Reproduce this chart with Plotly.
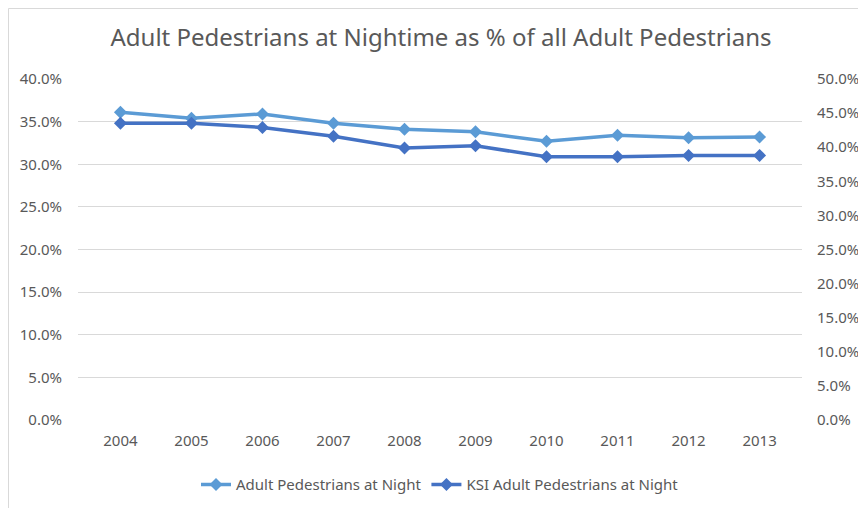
import plotly.graph_objects as go

# ---------------------------------------
# DATA
# ---------------------------------------
years = ["2004", "2005", "2006", "2007", "2008", "2009", "2010", "2011", "2012", "2013"]

# left axis
adult_night = [0.361, 0.354, 0.359, 0.348, 0.341, 0.338, 0.327, 0.334, 0.331, 0.332]

# right axis
ksi_adult_night = [0.435, 0.435, 0.429, 0.416, 0.399, 0.402, 0.386, 0.386, 0.388, 0.388]

grey = "#595959"
font_family = "Noto Sans, Liberation Sans, sans-serif"

fig = go.Figure()

fig.add_trace(go.Scatter(
    x=years,
    y=adult_night,
    name="Adult Pedestrians at Night",
    mode="lines+markers",
    line=dict(color="#5B9BD5", width=3.5),
    marker=dict(symbol="diamond", size=10, color="#5B9BD5")
))

fig.add_trace(go.Scatter(
    x=years,
    y=ksi_adult_night,
    name="KSI Adult Pedestrians at Night",
    mode="lines+markers",
    yaxis="y2",
    line=dict(color="#4472C4", width=3.5),
    marker=dict(symbol="diamond", size=10, color="#4472C4")
))

# page body adds 8px offset, so margins are shifted by that
fig.update_layout(
    width=866,
    height=508,
    paper_bgcolor="white",
    plot_bgcolor="white",
    font=dict(family=font_family, color=grey, size=15),
    title=dict(
        text="Adult Pedestrians at Nightime as % of all Adult Pedestrians",
        x=0.5, xanchor="center",
        y=0.941, yanchor="middle",
        font=dict(size=24, color=grey)
    ),
    margin=dict(l=70, r=72, t=71, b=96),
    xaxis=dict(
        showgrid=False,
        showline=False,
        ticks="outside",
        ticklen=7,
        tickcolor="rgba(0,0,0,0)",
        tickfont=dict(size=15, color=grey)
    ),
    yaxis=dict(
        range=[0, 0.4],
        dtick=0.05,
        tickformat=".1%",
        showgrid=True,
        gridcolor="#D9D9D9",
        gridwidth=1,
        zeroline=False,
        showline=False,
        ticks="outside",
        ticklen=12,
        tickcolor="rgba(0,0,0,0)",
        tickfont=dict(size=15, color=grey)
    ),
    yaxis2=dict(
        range=[0, 0.5],
        dtick=0.05,
        tickformat=".1%",
        overlaying="y",
        side="right",
        showgrid=False,
        zeroline=False,
        showline=False,
        ticks="outside",
        ticklen=11,
        tickcolor="rgba(0,0,0,0)",
        tickfont=dict(size=15, color=grey)
    ),
    legend=dict(
        orientation="h",
        x=0.5, xanchor="center",
        y=-0.19, yanchor="middle",
        font=dict(size=15, color=grey)
    ),
    shapes=[dict(
        type="rect",
        xref="paper", yref="paper",
        x0=-0.096, x1=1.3, y0=-0.5, y1=1.2067,
        line=dict(color="#D9D9D9", width=1),
        layer="below"
    )]
)

fig.write_html("out.html")
